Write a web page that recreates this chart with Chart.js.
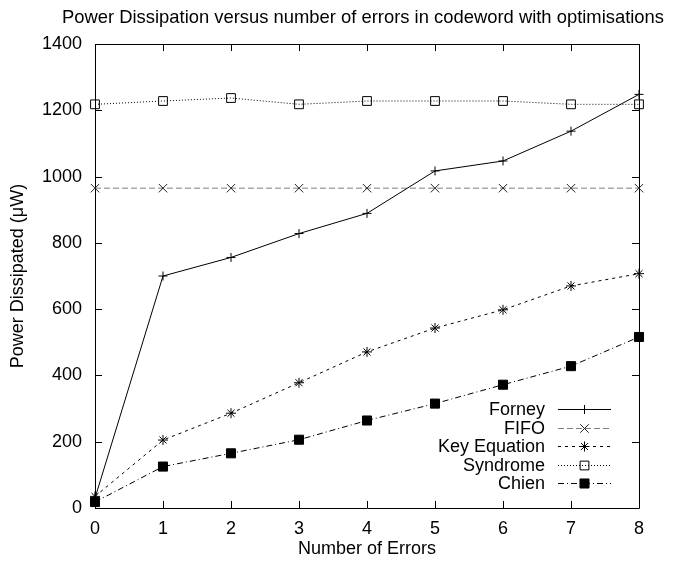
<!DOCTYPE html>
<html lang="en">
<head>
    <meta charset="UTF-8" />
    <title>Power Dissipation versus number of errors</title>
    <script src="https://cdn.jsdelivr.net/npm/chart.js@4"></script>
    <style>
        html, body { margin: 0; padding: 0; background: #fff; }
        #wrap { width: 673px; height: 565px; }
    </style>
</head>
<body>
    <div id="wrap"><canvas id="chart" width="673" height="565"></canvas></div>

    <script>
        // values
        const errors = [0, 1, 2, 3, 4, 5, 6, 7, 8];
        const forney = [30, 700, 756, 828, 889, 1017, 1047, 1137, 1248];
        const fifo = [965, 965, 965, 965, 965, 965, 965, 965, 965];
        const keyEquation = [35, 205, 286, 378, 471, 543, 598, 670, 707];
        const syndrome = [1218, 1228, 1237, 1218, 1228, 1228, 1228, 1218, 1218];
        const chien = [18, 125, 165, 206, 264, 315, 372, 428, 516];

        const yTicks = [0, 200, 400, 600, 800, 1000, 1200, 1400];
        const xTicks = [0, 1, 2, 3, 4, 5, 6, 7, 8];

        const FONT = "'Liberation Sans', Arial, Helvetica, sans-serif";

        function pts(values) {
            return errors.map((e, i) => ({ x: e, y: values[i] }));
        }

        function series(label, values, style) {
            return Object.assign({
                label: label,
                data: pts(values),
                borderColor: "#000",
                borderWidth: 1,
                pointBorderColor: "#000",
                pointBackgroundColor: "transparent",
                pointBorderWidth: 1,
                pointRadius: 4.5,
                fill: false,
                tension: 0,
                clip: false
            }, style);
        }

        // gnuplot style frame with inward ticks on all four sides
        const framePlugin = {
            id: "frame",
            beforeDatasetsDraw(chart) {
                const { ctx, chartArea: a, scales } = chart;
                const len = 7;
                ctx.save();
                ctx.strokeStyle = "#000";
                ctx.lineWidth = 1;
                ctx.beginPath();
                ctx.rect(a.left + 0.5, a.top + 0.5, a.right - a.left, a.bottom - a.top);
                yTicks.forEach(v => {
                    const y = Math.round(scales.y.getPixelForValue(v)) + 0.5;
                    ctx.moveTo(a.left, y); ctx.lineTo(a.left + len, y);
                    ctx.moveTo(a.right, y); ctx.lineTo(a.right - len, y);
                });
                xTicks.forEach(v => {
                    const x = Math.round(scales.x.getPixelForValue(v)) + 0.5;
                    ctx.moveTo(x, a.bottom); ctx.lineTo(x, a.bottom - len);
                    ctx.moveTo(x, a.top); ctx.lineTo(x, a.top + len);
                });
                ctx.stroke();

                ctx.fillStyle = "#000";
                ctx.font = "18.4px " + FONT;
                ctx.textAlign = "center";
                ctx.textBaseline = "alphabetic";
                ctx.fillText("Power Dissipation versus number of errors in codeword with optimisations", 363, 23);
                ctx.restore();
            }
        };

        // key box in the lower right, label on the left of the sample
        const keyPlugin = {
            id: "key",
            afterDatasetsDraw(chart) {
                const { ctx } = chart;
                const textRight = 545, lineFrom = 558, lineTo = 611, top = 409, step = 18.5;
                ctx.save();
                ctx.font = "18px " + FONT;
                ctx.textAlign = "right";
                ctx.textBaseline = "middle";
                chart.data.datasets.forEach((ds, i) => {
                    const y = Math.round(top + i * step) + 0.5;
                    ctx.fillStyle = "#000";
                    ctx.fillText(ds.label, textRight, y + 1);
                    ctx.strokeStyle = ds.borderColor;
                    ctx.lineWidth = ds.borderWidth;
                    ctx.setLineDash(ds.borderDash || []);
                    ctx.beginPath();
                    ctx.moveTo(lineFrom, y);
                    ctx.lineTo(lineTo, y);
                    ctx.stroke();
                    ctx.setLineDash([]);
                    ctx.strokeStyle = ds.pointBorderColor;
                    ctx.fillStyle = ds.pointBackgroundColor;
                    ctx.lineWidth = ds.pointBorderWidth;
                    Chart.helpers.drawPoint(ctx, {
                        pointStyle: ds.pointStyle,
                        radius: ds.pointRadius,
                        rotation: 0,
                        borderWidth: ds.pointBorderWidth
                    }, (lineFrom + lineTo) / 2, y);
                });
                ctx.restore();
            }
        };

        const ctx = document.getElementById("chart").getContext("2d");
        new Chart(ctx, {
            type: "line",
            data: {
                datasets: [
                    series("Forney", forney, { pointStyle: "cross", pointRadius: 4.5 }),
                    series("FIFO", fifo, {
                        borderColor: "#808080",
                        borderDash: [6, 3],
                        pointBorderColor: "#222",
                        pointStyle: "crossRot",
                        pointRadius: 6
                    }),
                    series("Key Equation", keyEquation, {
                        borderDash: [3, 4],
                        pointStyle: "star",
                        pointRadius: 5
                    }),
                    series("Syndrome", syndrome, {
                        borderDash: [1, 2],
                        pointStyle: "rect",
                        pointRadius: 6.2
                    }),
                    series("Chien", chien, {
                        borderDash: [6, 3, 1, 3],
                        pointStyle: "rect",
                        pointBackgroundColor: "#000",
                        pointRadius: 6.4
                    })
                ]
            },
            options: {
                responsive: false,
                animation: false,
                devicePixelRatio: 1,
                layout: { padding: { left: 0, right: 34, top: 44, bottom: 0 } },
                plugins: {
                    legend: { display: false },
                    title: { display: false },
                    tooltip: { enabled: false }
                },
                scales: {
                    x: {
                        type: "linear",
                        min: 0,
                        max: 8,
                        afterFit(scale) { scale.height = 57; },
                        afterBuildTicks(scale) { scale.ticks = xTicks.map(v => ({ value: v })); },
                        grid: { display: false, drawTicks: false },
                        border: { display: false },
                        ticks: {
                            color: "#000",
                            padding: 10,
                            maxRotation: 0,
                            callback: v => String(v),
                            font: { family: FONT, size: 18 }
                        },
                        title: {
                            display: true,
                            text: "Number of Errors",
                            color: "#000",
                            padding: { top: 0, bottom: 5 },
                            font: { family: FONT, size: 18 }
                        }
                    },
                    y: {
                        min: 0,
                        max: 1400,
                        afterFit(scale) { scale.width = 95; },
                        afterBuildTicks(scale) { scale.ticks = yTicks.map(v => ({ value: v })); },
                        grid: { display: false, drawTicks: false },
                        border: { display: false },
                        ticks: {
                            color: "#000",
                            padding: 13,
                            callback: v => String(v),
                            font: { family: FONT, size: 18 }
                        },
                        title: {
                            display: true,
                            text: "Power Dissipated (\u03bcW)",
                            color: "#000",
                            padding: { top: 7, bottom: 0 },
                            font: { family: FONT, size: 18 }
                        }
                    }
                }
            },
            plugins: [framePlugin, keyPlugin]
        });
    </script>
</body>
</html>
